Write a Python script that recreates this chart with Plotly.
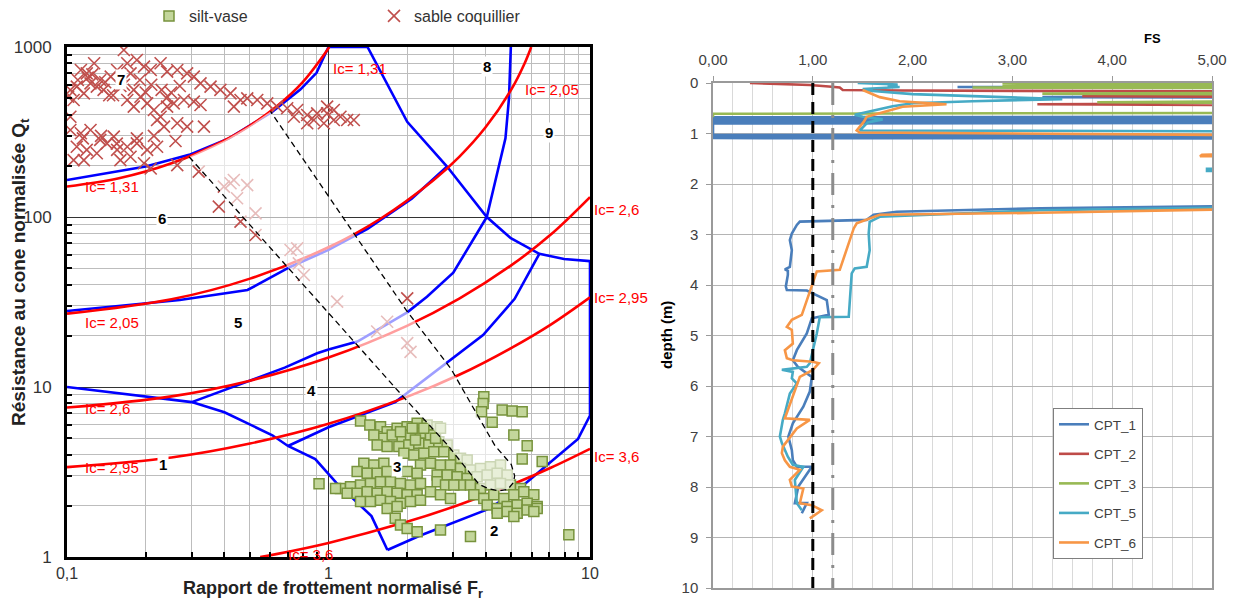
import math
import plotly.graph_objects as go

# ================= LEFT CHART DATA (Robertson chart) =================
# silt-vase points (Fr, Qt)
silt_fr = [3.926, 3.903, 3.847, 4.226, 4.615, 5.040, 5.504, 5.114, 5.751, 5.504, 6.564, 8.300, 0.92,
           1.326, 1.439, 1.581, 1.676, 1.830, 1.999, 2.183, 2.384, 2.603, 1.491, 1.628, 1.752, 1.913, 2.059,
           2.248, 2.455, 1.535, 1.676, 1.858, 2.029, 2.215, 2.419, 2.642, 2.843, 1.942, 2.120, 2.315, 2.528,
           2.761, 3.015, 3.197, 3.391, 2.09, 2.315, 1.885, 2.15, 2.566, 2.681,
           2.248, 2.455, 2.681, 2.928, 3.197, 3.491, 3.813, 4.164, 4.548, 2.603, 2.843, 3.105, 3.391, 3.703,
           4.044, 4.416, 4.823, 3.197, 3.491, 3.813, 4.164, 4.548, 4.966, 5.424, 3.596, 3.926, 4.288, 4.683,
           5.114, 5.584, 6.099, 4.044, 4.416, 4.823, 5.267, 5.751, 6.281, 4.416, 4.823, 5.267, 5.751, 6.281,
           5.114, 6.099,
           1.365, 1.491, 1.628, 1.287, 1.406, 1.535, 1.676, 1.999, 2.183, 1.111, 1.214, 1.326, 1.447, 1.581,
           1.726, 1.885, 2.059, 2.248, 1.179, 1.287, 1.406, 1.535, 1.676, 1.830, 1.999, 2.183, 1.326, 1.447,
           1.581, 1.726, 1.885, 2.059, 2.248, 1.676, 1.830, 2.603, 2.802, 3.015, 2.455, 2.681, 2.928, 1.064,
           1.80, 1.885, 1.999, 2.183, 2.681, 3.491]
silt_qt = [8.77, 8.01, 7.16, 6.20, 7.32, 7.22, 7.16, 5.22, 4.52, 3.77, 3.64, 1.35, 2.7,
           6.31, 5.98, 5.84, 5.46, 5.71, 5.84, 6.11, 5.98, 5.84, 5.22, 4.99, 5.22, 4.99, 5.22,
           5.34, 5.22, 4.56, 4.46, 4.46, 4.56, 4.66, 4.56, 4.77, 4.56, 4.07, 3.98, 4.07, 4.16,
           4.16, 3.98, 3.81, 3.72, 5.71, 5.71, 5.46, 4.88, 4.99, 5.71,
           3.48, 3.56, 3.48, 3.48, 3.32, 3.25, 3.32, 3.40, 3.48, 3.04, 3.04, 2.97, 2.90, 2.97,
           3.04, 3.11, 3.04, 2.65, 2.65, 2.53, 2.65, 2.71, 2.65, 2.53, 2.32, 2.21, 2.32, 2.21,
           2.32, 2.42, 2.32, 2.02, 1.93, 1.98, 2.02, 2.07, 1.98, 1.81, 1.85, 1.81, 1.89, 1.93,
           1.73, 1.85,
           3.56, 3.48, 3.56, 3.18, 3.11, 3.11, 3.18, 3.18, 3.11, 2.53, 2.59, 2.65, 2.71, 2.77,
           2.77, 2.71, 2.65, 2.71, 2.37, 2.37, 2.42, 2.37, 2.42, 2.37, 2.32, 2.32, 2.12, 2.12,
           2.16, 2.12, 2.07, 2.12, 2.16, 1.93, 1.98, 2.77, 2.65, 2.65, 2.42, 2.32, 2.21, 2.53,
           1.69, 1.54, 1.47, 1.41, 1.44, 1.32]

# sable coquillier points (Fr, Qt)
sable_fr = [0.165, 0.185, 0.170, 0.197, 0.209, 0.228, 0.2415, 0.264, 0.288, 0.3055, 0.324, 0.354, 0.386,
            0.422, 0.461, 0.4345, 0.489, 0.534, 0.583, 0.636, 0.695, 0.759, 0.829, 0.905, 0.988, 1.048,
            1.111, 1.179, 1.25, 0.879, 0.96, 0.829, 0.737, 1.048, 0.988,
            0.103, 0.109, 0.116, 0.123, 0.130, 0.138, 0.127, 0.113, 0.119, 0.101, 0.106, 0.147, 0.1555,
            0.175, 0.134, 0.14, 0.16, 0.18, 0.12, 0.19, 0.15, 0.21, 0.23, 0.25, 0.27,
            0.170, 0.180, 0.191, 0.2025, 0.215, 0.228, 0.2415, 0.256, 0.280, 0.3055, 0.324, 0.288, 0.334,
            0.264, 0.221, 0.235,
            0.103, 0.113, 0.123, 0.134, 0.109, 0.119, 0.130, 0.142, 0.1555, 0.170, 0.185, 0.2025, 0.221,
            0.106, 0.116, 0.160, 0.175, 0.197, 0.151, 0.103, 0.264, 0.209,
            0.319, 0.3807, 0.398, 0.4345, 0.422, 0.447, 0.4887, 0.4608, 0.526, 0.526, 0.716, 0.759, 0.770,
            0.805, 1.079, 1.535, 1.676, 2.0, 2.0, 2.059,
            0.11, 0.125, 0.145, 0.165, 0.20, 0.24, 0.115, 0.135, 0.155, 0.185, 0.215, 0.26]
sable_qt = [960, 838, 802, 766, 732, 802, 716, 732, 700, 669, 611, 585, 559,
            534, 488, 446, 499, 488, 466, 446, 436, 426, 398, 407, 407, 426,
            389, 372, 372, 372, 356, 356, 389, 372, 446,
            559, 585, 534, 611, 585, 559, 802, 732, 700, 510, 488, 669, 732,
            700, 640, 620, 590, 560, 660, 640, 520, 600, 560, 540, 590,
            488, 446, 510, 466, 426, 389, 446, 466, 488, 477, 456, 340, 340,
            356, 372, 340,
            325, 311, 325, 284, 259, 248, 237, 271, 248, 259, 271, 248, 259,
            216, 216, 216, 226, 207, 297, 389, 202, 193,
            185, 115, 151, 165, 158, 129, 154, 93.9, 105, 78.4, 64, 65.4, 53.4,
            45.6, 31.8, 21.2, 24.2, 33.2, 18.1, 16.1,
            640, 690, 520, 600, 540, 500, 290, 300, 270, 290, 300, 280]

# zone boundaries (blue)
b1_fr = [0.1, 0.3, 0.4, 0.61, 0.70, 0.89, 1.07, 1.32, 1.46, 1.68]
b1_qt = [10, 8.15, 7.1, 5.2, 4.5, 3.77, 2.74, 2.0, 1.74, 1.1]
b2_fr = [1.68, 2.22, 4.03, 5.15, 6.8, 9.0, 10, 10]
b2_qt = [1.1, 1.33, 1.9, 2.39, 3.44, 4.95, 6.8, 55]
b3_fr = [0.70, 1.0, 1.8, 2.65, 3.9, 5.15, 6.4]
b3_qt = [4.5, 5.8, 8.15, 12.8, 20.2, 33, 60.7]
b4_fr = [0.3, 0.68, 0.905, 1.0, 1.29, 2.0, 2.38, 3.0, 4.03]
b4_qt = [8.15, 13, 15.8, 16.6, 18.5, 27.5, 34, 47, 100]
b5_fr = [10, 7.96, 6.4, 4.98, 4.03, 2.84, 2.0, 1.41]
b5_qt = [55, 56.6, 60.7, 75, 100, 198, 363, 1000]
b6_fr = [0.1, 0.2, 0.293, 0.416, 0.61, 0.78, 0.9, 1.0, 1.41]
b6_qt = [165, 198, 232, 290, 417, 562, 705, 1000, 1000]
b7_fr = [0.1, 0.27, 0.49, 0.716, 1.0, 1.41, 2.08, 2.84]
b7_qt = [28, 32.5, 37.2, 51, 64, 85, 128, 198]
b8_fr = [4.03, 4.3, 4.75, 4.9, 4.98]
b8_qt = [100, 150, 290, 500, 1000]
blue_fr = [b1_fr, b2_fr, b3_fr, b4_fr, b5_fr, b6_fr, b7_fr, b8_fr]
blue_qt = [b1_qt, b2_qt, b3_qt, b4_qt, b5_qt, b6_qt, b7_qt, b8_qt]

# Ic contours (red)
ic131_fr = [0.1, 0.158, 0.251, 0.398, 0.501, 0.631, 0.794, 1.0, 1.006]
ic131_qt = [151, 169, 207, 281, 345, 445, 617, 984, 1000]
ic205_fr = [0.1, 0.251, 0.501, 1.0, 1.585, 2.512, 3.162, 3.98, 5.01, 5.62, 5.96]
ic205_qt = [27.0, 32.8, 43.4, 66.4, 98, 164, 226, 336, 565, 800, 1000]
ic26_fr = [0.1, 0.251, 0.501, 1.0, 1.995, 3.162, 5.01, 7.08, 10]
ic26_qt = [7.57, 8.81, 10.9, 14.9, 22.9, 33.1, 52.1, 78.8, 130.9]
ic295_fr = [0.1, 0.251, 0.501, 1.0, 1.995, 3.162, 5.01, 7.08, 10]
ic295_qt = [3.38, 3.85, 4.65, 6.08, 8.75, 11.8, 17.0, 23.3, 33.7]
ic36_fr = [0.548, 0.631, 1.0, 1.995, 3.162, 5.01, 7.08, 10]
ic36_qt = [1.0, 1.04, 1.21, 1.61, 2.03, 2.66, 3.35, 4.33]
red_fr = [ic131_fr, ic205_fr, ic26_fr, ic295_fr, ic36_fr]
red_qt = [ic131_qt, ic205_qt, ic26_qt, ic295_qt, ic36_qt]

# dashed band (transition zone)
band_fr = [0.293, 1.94, 2.84, 3.76, 4.1, 4.5, 4.85, 5.1, 5.15, 5.0, 4.33, 2.94, 2.0, 1.0, 0.6, 0.501, 0.398, 0.293]
band_qt = [226, 8.7, 4.6, 2.68, 2.52, 2.45, 2.5, 2.75, 3.0, 3.5, 4.52, 12.8, 27.8, 132, 418, 345, 281, 226]

# zone numbers
zone_txt = ["1", "2", "3", "4", "5", "6", "7", "8", "9"]
zone_fr = [0.232, 4.28, 1.82, 0.861, 0.449, 0.23, 0.161, 4.02, 6.94]
zone_qt = [3.48, 1.44, 3.43, 9.6, 24.1, 98.6, 640, 773, 312]

# Ic labels inside the plot
ic_lbl_txt = ["Ic= 1,31", "Ic= 1,31", "Ic= 2,05", "Ic= 2,05", "Ic= 2,6", "Ic= 2,95", "Ic= 3,6"]
ic_lbl_fr = [1.02, 0.1156, 5.52, 0.115, 0.115, 0.115, 0.69]
ic_lbl_qt = [752, 152, 559, 23.8, 7.52, 3.38, 1.03]
# Ic labels right of the plot
ic_rlbl_txt = ["Ic= 2,6", "Ic= 2,95", "Ic= 3,6"]
ic_rlbl_qt = [110, 33.8, 3.88]

# ================= RIGHT CHART DATA (FS vs depth) =================
cpt_names = ["CPT_1", "CPT_2", "CPT_3", "CPT_5", "CPT_6"]
cpt_colors = ["#4a7ebb", "#be4b48", "#98b954", "#46aac5", "#f79646"]

fs1 = [6, 6, 2.45, 6, 6, 3.3, 6, 6, 0, 0, 6, 6, 0, 0, 6, 6, 0, 0, 6, 6, 0, 0, 6, 6,
       3.28, 1.84, 1.61, 1.54, 0.87, 0.84, 0.79, 0.77, 0.79, 0.77, 0.72, 0.75, 0.75, 0.73, 0.74, 0.94,
       1.04, 1.14, 1.16, 0.99, 0.94, 0.84, 0.80, 0.85, 0.99, 0.97, 0.905, 0.80, 0.755, 0.79, 0.80, 0.84,
       0.99, 0.92, 0.855, 0.82, 0.94, 0.89]
d1 = [0.0, 0.07, 0.08, 0.09, 0.27, 0.28, 0.29, 0.67, 0.68, 0.70, 0.71, 0.73, 0.74, 0.76, 0.77, 0.79,
      0.80, 1.03, 1.04, 1.06, 1.07, 1.09, 1.10, 2.42,
      2.48, 2.55, 2.61, 2.71, 2.745, 2.81, 2.98, 3.11, 3.31, 3.64, 3.69, 3.72, 3.80, 4.03, 4.10, 4.11,
      4.20, 4.30, 4.59, 4.66, 4.96, 5.29, 5.49, 5.62, 5.82, 6.11, 6.41, 6.74, 7.0, 7.27, 7.47, 7.60,
      7.60, 7.80, 7.99, 8.32, 8.32, 8.52]
fs2 = [0.37, 0.97, 1.16, 1.27, 1.3, 1.9, 6, 6, 3.7, 6, 6, 3.25, 6, 8]
d2 = [0.0, 0.04, 0.07, 0.09, 0.14, 0.15, 0.17, 0.24, 0.26, 0.28, 0.40, 0.42, 0.44, 0.46]
fs3 = [2.9, 6, 6, 2.9, 6, 6, 2.6, 6, 6, 3.3, 6, 6, 3.85, 6, 6, 0, 0]
d3 = [0.0, 0.01, 0.03, 0.04, 0.05, 0.08, 0.09, 0.10, 0.19, 0.21, 0.23, 0.36, 0.38, 0.40, 0.59, 0.61, 0.68]
fs5 = [1.45, 1.85, 1.75, 1.87, 1.5, 1.6, 2.0, 3.0, 3.5, 2.6, 2.0, 1.8, 1.6, 1.42, 1.5, 1.7, 1.55, 1.5,
       1.47, 6, 6, 4.95, 4.95, 6, 6, 3.28, 1.67, 1.57, 1.56, 1.57, 1.54, 1.42, 1.39, 1.36, 1.07, 1.04,
       0.97, 0.94, 0.69, 0.80, 0.79, 0.84, 0.77, 0.72, 0.70, 0.67, 0.69, 0.75, 0.80, 0.905, 0.82, 0.84, 0.89]
d5 = [0.0, 0.03, 0.06, 0.08, 0.12, 0.16, 0.22, 0.28, 0.32, 0.36, 0.40, 0.46, 0.55, 0.63, 0.67, 0.72,
      0.78, 0.88, 0.94, 0.96, 1.69, 1.70, 1.74, 1.75, 2.44, 2.52, 2.65, 2.75, 2.98, 3.31, 3.64, 3.67,
      3.77, 4.63, 4.64, 4.96, 5.55, 5.62, 5.68, 5.72, 5.85, 5.95, 6.15, 6.54, 6.67, 7.0, 7.13, 7.40,
      7.56, 7.60, 7.86, 8.32, 8.46]
fs6 = [1.5, 1.67, 1.87, 2.34, 1.9, 1.74, 1.54, 1.51, 1.44, 1.47, 6, 6, 4.9, 4.88, 6, 6, 3.28, 1.67,
       1.44, 1.41, 1.34, 1.27, 1.04, 0.99, 0.94, 0.89, 0.79, 0.74, 0.79, 0.80, 0.72, 0.74, 0.80, 1.0,
       1.06, 1.0, 0.87, 0.80, 0.72, 0.97, 0.84, 0.70, 0.69, 0.72, 0.77, 0.87, 0.77, 0.79, 0.905, 0.87,
       0.99, 1.09, 0.97]
d6 = [0.14, 0.28, 0.36, 0.42, 0.47, 0.56, 0.67, 0.77, 0.94, 0.98, 1.04, 1.40, 1.42, 1.45, 1.46, 2.47,
      2.57, 2.61, 2.78, 2.88, 3.31, 3.70, 3.73, 4.03, 4.30, 4.59, 4.69, 4.83, 4.89, 5.16, 5.29, 5.45,
      5.49, 5.52, 5.55, 5.68, 5.82, 6.21, 6.64, 6.67, 6.84, 7.2, 7.33, 7.47, 7.60, 7.66, 7.86, 7.99,
      8.03, 8.32, 8.36, 8.46, 8.62]
cpt_fs = [fs1, fs2, fs3, fs5, fs6]
cpt_d = [d1, d2, d3, d5, d6]

fs_limits = [1.0, 1.2]
depth_span = [0, 10]

FONT = "Liberation Sans"
FW, FH = 1233, 601


def px(X):
    return X / FW


def py(Y):
    return 1 - Y / FH


fig = go.Figure()

# ---------- left chart ----------
for fx, qy in zip(blue_fr, blue_qt):
    fig.add_trace(go.Scatter(x=fx, y=qy, mode="lines", line=dict(color="#0000ff", width=2.6),
                             showlegend=False, hoverinfo="skip", xaxis="x", yaxis="y"))
for fx, qy in zip(red_fr, red_qt):
    fig.add_trace(go.Scatter(x=fx, y=qy, mode="lines", line=dict(color="#ff0000", width=2.6, shape="spline"),
                             showlegend=False, hoverinfo="skip", xaxis="x", yaxis="y"))

fig.add_trace(go.Scatter(x=sable_fr, y=sable_qt, mode="markers", name="sable coquillier",
                         marker=dict(symbol="x-thin", size=12, line=dict(color="#c0504d", width=1.6),
                                     color="#c0504d"),
                         xaxis="x", yaxis="y", legend="legend"))
fig.add_trace(go.Scatter(x=silt_fr, y=silt_qt, mode="markers", name="silt-vase",
                         marker=dict(symbol="square", size=10, color="#c3d69b",
                                     line=dict(color="#77933c", width=1.5)),
                         xaxis="x", yaxis="y", legend="legend"))

# translucent band
fig.add_trace(go.Scatter(x=band_fr, y=band_qt, mode="lines", fill="toself",
                         fillcolor="rgba(255,255,255,0.62)", line=dict(width=0),
                         showlegend=False, hoverinfo="skip", xaxis="x", yaxis="y"))
fig.add_trace(go.Scatter(x=band_fr[:15], y=band_qt[:15], mode="lines",
                         line=dict(color="black", width=1.3, dash="6px,4px"),
                         showlegend=False, hoverinfo="skip", xaxis="x", yaxis="y"))

# ---------- right chart ----------
for name, col, fx, dy in zip(cpt_names, cpt_colors, cpt_fs, cpt_d):
    fig.add_trace(go.Scatter(x=fx, y=dy, mode="lines", name=name, line=dict(color=col, width=2.6),
                             xaxis="x2", yaxis="y2", legend="legend2", legendgroup=name))
fig.add_trace(go.Scatter(x=[fs_limits[0]] * 2, y=depth_span, mode="lines",
                         line=dict(color="black", width=3, dash="12px,7px"),
                         showlegend=False, hoverinfo="skip", xaxis="x2", yaxis="y2"))
fig.add_trace(go.Scatter(x=[fs_limits[1]] * 2, y=depth_span, mode="lines",
                         line=dict(color="#8c8c8c", width=3, dash="22px,10px,3px,10px"),
                         showlegend=False, hoverinfo="skip", xaxis="x2", yaxis="y2"))

# ---------- annotations ----------
ann = []
for t, fx, qy in zip(zone_txt, zone_fr, zone_qt):
    ann.append(dict(text=t, x=math.log10(fx), y=math.log10(qy), xref="x", yref="y", showarrow=False,
                    font=dict(family=FONT, size=15, color="black", weight="bold"),
                    bgcolor="white", borderpad=1))
for t, fx, qy in zip(ic_lbl_txt, ic_lbl_fr, ic_lbl_qt):
    ann.append(dict(text=t, x=math.log10(fx), y=math.log10(qy), xref="x", yref="y", showarrow=False,
                    xanchor="left", font=dict(family=FONT, size=15, color="#ff0000")))
for t, qy in zip(ic_rlbl_txt, ic_rlbl_qt):
    ann.append(dict(text=t, x=1.003, y=math.log10(qy), xref="x domain", yref="y", showarrow=False,
                    xanchor="left", font=dict(family=FONT, size=15, color="#ff0000")))
ann.append(dict(text="Résistance au cone normalisée Q<sub>t</sub>", textangle=-90,
                x=px(20), y=py(272), xref="paper", yref="paper", showarrow=False,
                xanchor="center", yanchor="middle",
                font=dict(family=FONT, size=19, color="#222", weight="bold")))
ann.append(dict(text="Rapport de frottement normalisé F<sub>r</sub>",
                x=px(333), y=py(589), xref="paper", yref="paper", showarrow=False,
                xanchor="center", yanchor="middle",
                font=dict(family=FONT, size=18, color="#222", weight="bold")))
ann.append(dict(text="FS", x=px(1152), y=py(39), xref="paper", yref="paper", showarrow=False,
                xanchor="center", yanchor="middle",
                font=dict(family=FONT, size=13, color="black", weight="bold")))
ann.append(dict(text="depth (m)", textangle=-90, x=px(667), y=py(335), xref="paper",
                yref="paper", showarrow=False, xanchor="center", yanchor="middle",
                font=dict(family=FONT, size=15, color="black", weight="bold")))

minor_x = [0.2, 0.3, 0.4, 0.5, 0.6, 0.7, 0.8, 0.9, 2, 3, 4, 5, 6, 7, 8, 9]
minor_y = [2, 3, 4, 5, 6, 7, 8, 9, 20, 30, 40, 50, 60, 70, 80, 90, 200, 300, 400, 500, 600, 700, 800, 900]

fig.update_layout(
    width=FW, height=FH, margin=dict(l=0, r=0, t=0, b=0, autoexpand=False),
    paper_bgcolor="white", plot_bgcolor="white", separators=", ",
    font=dict(family=FONT),
    annotations=ann,
    xaxis=dict(type="log", domain=[px(67), px(590)], range=[-1, 1], anchor="y", automargin=False,
               tickvals=[0.1, 1, 10], ticktext=["0,1", "1", "10"], ticks="",
               ticklabelstandoff=0,
               tickfont=dict(family=FONT, size=16, color="#333"),
               showgrid=True, gridcolor="#333333", gridwidth=1,
               showline=True, linecolor="black", linewidth=3, mirror=True, zeroline=False,
               minor=dict(tickvals=minor_x, showgrid=True, gridcolor="#bdbdbd", gridwidth=1,
                          ticks="inside", ticklen=5, tickcolor="black", tickwidth=2)),
    yaxis=dict(type="log", domain=[py(557), py(47)], range=[0, 3], anchor="x", automargin=False,
               tickvals=[1, 10, 100, 1000], ticktext=["1", "10", "100", "1000"], ticks="",
               ticklabelstandoff=9,
               tickfont=dict(family=FONT, size=17, color="#333"),
               showgrid=True, gridcolor="#333333", gridwidth=1,
               showline=True, linecolor="black", linewidth=3, mirror=True, zeroline=False,
               minor=dict(tickvals=minor_y, showgrid=True, gridcolor="#bdbdbd", gridwidth=1,
                          ticks="inside", ticklen=5, tickcolor="black", tickwidth=2)),
    xaxis2=dict(domain=[px(713), px(1212)], range=[0, 5], anchor="y2", side="top", automargin=False,
                tickvals=[0, 1, 2, 3, 4, 5], tickformat=".2f", ticks="outside", ticklen=5,
                tickcolor="#9a9a9a", ticklabelstandoff=5,
                tickfont=dict(family=FONT, size=15, color="#404040"),
                showgrid=True, gridcolor="#c4c4c4", gridwidth=1,
                showline=True, linecolor="#9a9a9a", linewidth=1.5, mirror=True, zeroline=False,
                minor=dict(dtick=0.2, showgrid=True, gridcolor="#d9d9d9", gridwidth=1)),
    yaxis2=dict(domain=[py(588), py(83)], range=[10, 0], anchor="x2", automargin=False,
                tickvals=list(range(0, 11)), ticks="outside", ticklen=5, tickcolor="#9a9a9a",
                ticklabelstandoff=5,
                tickfont=dict(family=FONT, size=15, color="#404040"),
                showgrid=True, gridcolor="#b4b4b4", gridwidth=1.2,
                showline=True, linecolor="#9a9a9a", linewidth=1.5, mirror=True, zeroline=False),
    legend=dict(orientation="h", x=px(149), xanchor="left", y=py(16), yanchor="middle",
                font=dict(family=FONT, size=16, color="#333"), entrywidth=180,
                entrywidthmode="pixels", bgcolor="rgba(0,0,0,0)", traceorder="reversed"),
    legend2=dict(x=px(1053), xanchor="left", y=py(408), yanchor="top",
                 bordercolor="#7f7f7f", borderwidth=1, bgcolor="white",
                 font=dict(family=FONT, size=13.5, color="#404040"),
                 tracegroupgap=9, traceorder="grouped"),
)

# remove the page's default body margin so the figure sits at the window origin
fig.write_html("out.html", config={"displayModeBar": False},
               post_script="document.body.style.margin='0px';document.body.style.overflow='hidden';")
